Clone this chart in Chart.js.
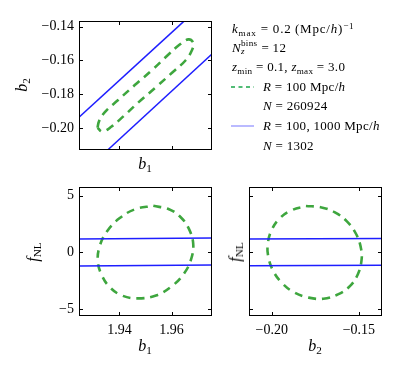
<!DOCTYPE html>
<html lang="en">
<head>
<meta charset="UTF-8">
<title>Fisher contours b1 b2 fNL</title>
<script src="https://cdn.jsdelivr.net/npm/chart.js@4"></script>
<style>
  html, body { margin: 0; padding: 0; background: #fff; }
  #wrap { position: relative; width: 399px; height: 380px; overflow: hidden;
          font-family: 'Liberation Serif', 'DejaVu Serif', serif; color: #000; }
  canvas { position: absolute; left: 0; top: 0; }
  .lbl { position: absolute; font-size: 16px; line-height: 1; white-space: nowrap; }
  .ctr { transform: translate(-50%, -50%); }
  .rot { transform: translate(-50%, -50%) rotate(-90deg); }
  .leg { position: absolute; font-size: 13px; line-height: 15px; letter-spacing: 0.3px; white-space: nowrap; }
  sub, sup { font-size: 70%; line-height: 0; position: relative; vertical-align: baseline; }
  sub { top: 0.3em; }
  sup { top: -0.45em; }
  .stack { display: inline-block; position: relative; width: 1.3em; height: 1em; }
  .stack span { position: absolute; left: 0; font-size: 70%; }
  svg { position: absolute; }
</style>
</head>
<body>
<div id="wrap">
  <canvas id="tl" width="399" height="380"></canvas>
  <canvas id="bl" width="399" height="380"></canvas>
  <canvas id="br" width="399" height="380"></canvas>

  <div class="lbl rot" style="left:22px; top:85px;"><i>b</i><sub>2</sub></div>
  <div class="lbl ctr" style="left:145px; top:164px;"><i>b</i><sub>1</sub></div>
  <div class="lbl rot" style="left:33px; top:252px;"><i>f</i><sub>NL</sub></div>
  <div class="lbl ctr" style="left:145px; top:346px;"><i>b</i><sub>1</sub></div>
  <div class="lbl rot" style="left:235px; top:252px;"><i>f</i><sub>NL</sub></div>
  <div class="lbl ctr" style="left:315px; top:346px;"><i>b</i><sub>2</sub></div>

  <div class="leg" style="left:232px; top:21px; letter-spacing:0.8px;"><i>k</i><sub>max</sub> = 0.2&thinsp;(Mpc/<i>h</i>)<sup>−1</sup></div>
  <div class="leg" style="left:232px; top:39px;"><i>N</i><span class="stack"><span style="top:0.55em"><i>z</i></span><span style="top:-0.3em">bins</span></span> = 12</div>
  <div class="leg" style="left:232px; top:59px;"><i>z</i><sub>min</sub> = 0.1, <i>z</i><sub>max</sub> = 3.0</div>
  <svg style="left:231px; top:83px;" width="23" height="8"><line x1="0" y1="4" x2="23" y2="4" stroke="#1aa64a" stroke-width="1.3" stroke-dasharray="4,3.5"/></svg>
  <div class="leg" style="left:263px; top:79px;"><i>R</i> = 100 Mpc/<i>h</i></div>
  <div class="leg" style="left:263px; top:98px;"><i>N</i> = 260924</div>
  <svg style="left:231px; top:122px;" width="23" height="8"><line x1="0" y1="4" x2="23" y2="4" stroke="#8c8cff" stroke-width="1.2"/></svg>
  <div class="leg" style="left:263px; top:118px;"><i>R</i> = 100, 1000 Mpc/<i>h</i></div>
  <div class="leg" style="left:263px; top:138px;"><i>N</i> = 1302</div>
</div>

<script>
// axis limits
const b1Range = [1.9245, 1.9755];
const b2Range = [-0.2131, -0.1367];
const fnlRange = [-5.6, 5.76];

// ticks
const b1Ticks = [1.94, 1.96];
const b1TickLabels = ['1.94', '1.96'];
const b2Ticks = [-0.20, -0.18, -0.16, -0.14];
const b2TickLabelsY = ['−0.20', '−0.18', '−0.16', '−0.14'];
const b2TicksX = [-0.20, -0.15];
const b2TickLabelsX = ['−0.20', '−0.15'];
const fnlTicks = [-5, 0, 5];
const fnlTickLabels = ['−5', '0', '5'];

// R = 100 Mpc/h contour, b1 vs b2
const tlEllB1 = [1.9316, 1.9322, 1.9345, 1.9395, 1.9460, 1.9525, 1.9585, 1.9630, 1.9665,
                 1.9684, 1.9678, 1.9655, 1.9605, 1.9540, 1.9475, 1.9415, 1.9370, 1.9335];
const tlEllB2 = [-0.1999, -0.1960, -0.1905, -0.1835, -0.1745, -0.1658, -0.1570, -0.1508, -0.1476,
                 -0.1499, -0.1540, -0.1598, -0.1669, -0.1759, -0.1846, -0.1932, -0.1992, -0.2022];
// R = 100, 1000 Mpc/h, b1 vs b2 (two edges of a very long contour)
const tlUpB1 = [1.9243, 1.9649];
const tlUpB2 = [-0.1940, -0.1366];
const tlLoB1 = [1.9355, 1.9759];
const tlLoB2 = [-0.2131, -0.1557];

// b1 vs fNL
const blEllB1 = [1.9530, 1.9590, 1.9635, 1.9667, 1.9683, 1.9675, 1.9648, 1.9600, 1.9540,
                 1.9470, 1.9410, 1.9365, 1.9333, 1.9317, 1.9325, 1.9352, 1.9400, 1.9460];
const blEllF = [4.10, 3.80, 3.10, 2.05, 0.75, -0.60, -1.85, -3.00, -3.80,
                -4.05, -3.80, -3.10, -2.05, -0.75, 0.60, 1.85, 3.00, 3.80];
const blUpB1 = [1.9245, 1.9755];
const blUpF = [1.17, 1.26];
const blLoB1 = [1.9245, 1.9755];
const blLoF = [-1.19, -1.11];

// b2 vs fNL
const brEllB2 = [-0.1804, -0.1720, -0.1640, -0.1570, -0.1515, -0.1487, -0.1485, -0.1505, -0.1550, -0.1620,
                 -0.1704, -0.1788, -0.1868, -0.1938, -0.1993, -0.2021, -0.2023, -0.2003, -0.1958, -0.1888];
const brEllF = [4.08, 3.98, 3.55, 2.75, 1.60, 0.30, -0.75, -1.90, -2.95, -3.70,
                -4.08, -3.98, -3.55, -2.75, -1.60, -0.30, 0.75, 1.90, 2.95, 3.70];
const brUpB2 = [-0.2131, -0.1367];
const brUpF = [1.17, 1.23];
const brLoB2 = [-0.2131, -0.1367];
const brLoF = [-1.17, -1.14];

const W = 399, H = 380;
const GREEN = '#3ea63e';
const BLUE = '#1e1eff';
const FONT = { family: "'Liberation Serif', 'DejaVu Serif', serif", size: 14 };

function pts(xs, ys) {
  return xs.map((x, i) => ({ x: x, y: ys[i] }));
}
function loop(xs, ys) {
  const p = pts(xs, ys);
  return p.concat([p[0]]);
}

const framePlugin = {
  id: 'frame',
  afterDraw(chart) {
    const ctx = chart.ctx, a = chart.chartArea;
    const x = chart.scales.x, y = chart.scales.y;
    ctx.save();
    ctx.strokeStyle = '#000';
    ctx.lineWidth = 1;
    ctx.strokeRect(a.left + 0.5, a.top + 0.5, a.right - a.left - 1, a.bottom - a.top - 1);
    ctx.beginPath();
    x.ticks.forEach(t => {
      const px = Math.round(x.getPixelForValue(t.value)) + 0.5;
      ctx.moveTo(px, a.bottom); ctx.lineTo(px, a.bottom - 4);
      ctx.moveTo(px, a.top); ctx.lineTo(px, a.top + 4);
    });
    y.ticks.forEach(t => {
      const py = Math.round(y.getPixelForValue(t.value)) + 0.5;
      ctx.moveTo(a.left, py); ctx.lineTo(a.left + 4, py);
      ctx.moveTo(a.right, py); ctx.lineTo(a.right - 4, py);
    });
    ctx.stroke();
    ctx.restore();
  }
};

function ellipseSet(data) {
  return {
    data: data, showLine: true, borderColor: GREEN, borderWidth: 2.6,
    borderDash: [8, 6], pointRadius: 0, tension: 0.4, fill: false
  };
}
function bandSet(data) {
  return {
    data: data, showLine: true, borderColor: BLUE, borderWidth: 1.5,
    pointRadius: 0, tension: 0, fill: false, clip: 0
  };
}

function panel(id, box, xr, yr, xt, xl, yt, yl, showX, showY, datasets) {
  const xh = showX ? 30 : 10;
  new Chart(document.getElementById(id), {
    type: 'scatter',
    data: { datasets: datasets },
    options: {
      responsive: false,
      animation: false,
      events: [],
      layout: { padding: { left: 0, top: box.t, right: W - box.r, bottom: H - box.b - xh } },
      plugins: { legend: { display: false }, tooltip: { enabled: false } },
      scales: {
        x: {
          type: 'linear', min: xr[0], max: xr[1],
          afterBuildTicks: s => { s.ticks = xt.map(v => ({ value: v })); },
          afterFit: s => { s.height = xh; },
          grid: { display: false, drawTicks: false },
          border: { display: false },
          ticks: { display: showX, font: FONT, color: '#000', padding: 6, maxRotation: 0,
                   callback: (v, i) => xl[i] }
        },
        y: {
          type: 'linear', min: yr[0], max: yr[1],
          afterBuildTicks: s => { s.ticks = yt.map(v => ({ value: v })); },
          afterFit: s => { s.width = box.l; },
          grid: { display: false, drawTicks: false },
          border: { display: false },
          ticks: { display: showY, font: FONT, color: '#000', padding: 5,
                   callback: (v, i) => yl[i] }
        }
      }
    },
    plugins: [framePlugin]
  });
}

panel('tl', { l: 79, t: 21, r: 212, b: 150 }, b1Range, b2Range,
  b1Ticks, b1TickLabels, b2Ticks, b2TickLabelsY, false, true, [
    bandSet(pts(tlUpB1, tlUpB2)),
    bandSet(pts(tlLoB1, tlLoB2)),
    ellipseSet(loop(tlEllB1, tlEllB2))
  ]);

panel('bl', { l: 79, t: 187, r: 212, b: 316 }, b1Range, fnlRange,
  b1Ticks, b1TickLabels, fnlTicks, fnlTickLabels, true, true, [
    bandSet(pts(blUpB1, blUpF)),
    bandSet(pts(blLoB1, blLoF)),
    ellipseSet(loop(blEllB1, blEllF))
  ]);

panel('br', { l: 249, t: 187, r: 382, b: 316 }, b2Range, fnlRange,
  b2TicksX, b2TickLabelsX, fnlTicks, fnlTickLabels, true, false, [
    bandSet(pts(brUpB2, brUpF)),
    bandSet(pts(brLoB2, brLoF)),
    ellipseSet(loop(brEllB2, brEllF))
  ]);
</script>
</body>
</html>
